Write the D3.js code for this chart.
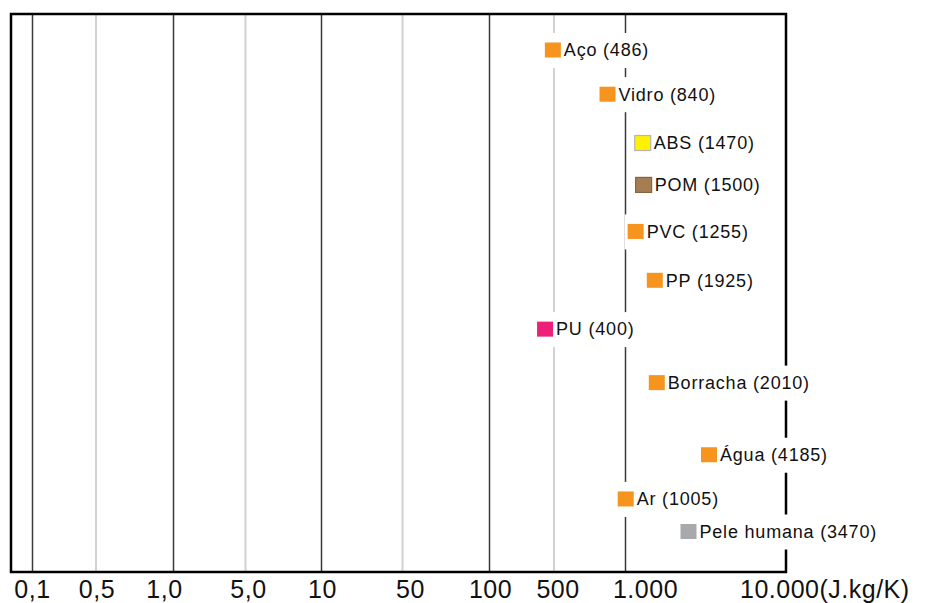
<!DOCTYPE html>
<html>
<head>
<meta charset="utf-8">
<script src="https://cdn.jsdelivr.net/npm/d3@7"></script>
<style>
  body { margin: 0; background: #fff; }
  text { font-family: "Liberation Sans", Arial, Helvetica, sans-serif; fill: #111; }
</style>
</head>
<body>
<div id="chart"></div>
<script>
// materials and their specific heat (J/kg.K)
const materials = ["Aço", "Vidro", "ABS", "POM", "PVC", "PP", "PU", "Borracha", "Água", "Ar", "Pele humana"];
const heatValues = [486, 840, 1470, 1500, 1255, 1925, 400, 2010, 4185, 1005, 3470];
const markerColors = ["#f7941d", "#f7941d", "#fff200", "#a67c52", "#f7941d", "#f7941d", "#ec1f79", "#f7941d", "#f7941d", "#f7941d", "#a7a9ac"];
// vertical slot of each row (rows are not evenly spaced in the original)
const rowSlots = [0, 0.95, 2, 2.9, 3.9, 4.95, 6, 7.15, 8.7, 9.65, 10.35];

const tickValues = [0.1, 0.5, 1, 5, 10, 50, 100, 500, 1000, 10000];
const tickLabels = ["0,1", "0,5", "1,0", "5,0", "10", "50", "100", "500", "1.000", "10.000(J.kg/K)"];
// labels are not all centred on their line in the original
const tickLabelShift = [0, 1, -9, 3, 1, 8, 1, 4, 20, -46];

const width = 930, height = 603;
const frame = { left: 11, top: 14, bottom: 572 };

// the axis is a hand drawn log axis, so each stretch gets its own width
const x = d3.scaleLog()
  .domain([0.1, 0.5, 1, 5, 10, 50, 100, 500, 1000, 2000, 3500, 4000, 10000])
  .range([32.5, 96, 173.5, 245.5, 321.5, 402.5, 489.5, 554, 625.5, 656.5, 689, 705, 786]);

const y = d3.scaleLinear()
  .domain([0, 10.35])
  .range([50, 531.5]);

const svg = d3.select("#chart").append("svg")
  .attr("width", width)
  .attr("height", height)
  .attr("viewBox", [0, 0, width, height]);

const right = x(10000);
const isDecade = d => Math.abs(Math.log10(d) - Math.round(Math.log10(d))) < 1e-6;

// grid lines
svg.append("g")
  .selectAll("line")
  .data(tickValues.slice(0, -1))
  .join("line")
    .attr("x1", d => x(d)).attr("x2", d => x(d))
    .attr("y1", frame.top).attr("y2", frame.bottom)
    .attr("stroke", d => isDecade(d) ? "#3a3a3a" : "#d2d2d2")
    .attr("stroke-width", d => isDecade(d) ? 1.5 : 2);

// frame
svg.append("path")
  .attr("d", `M${frame.left},${frame.bottom}V${frame.top}H${right}V${frame.bottom}Z`)
  .attr("fill", "none")
  .attr("stroke", "#000")
  .attr("stroke-width", 2.5);

// tick labels
svg.append("g")
  .selectAll("text")
  .data(tickValues)
  .join("text")
    .attr("x", d => x(d))
    .attr("y", 598)
    .attr("font-size", 25)
    .attr("letter-spacing", 0.5)
    .attr("text-anchor", (d, i) => i === tickValues.length - 1 ? "start" : "middle")
    .attr("dx", (d, i) => tickLabelShift[i])
    .text((d, i) => tickLabels[i]);

// material rows
const rows = svg.append("g")
  .selectAll("g")
  .data(materials)
  .join("g")
    .attr("transform", (d, i) => `translate(${x(heatValues[i])},${y(rowSlots[i])})`);

rows.append("text")
  .attr("x", 11)
  .attr("dy", "0.35em")
  .attr("font-size", 18)
  .attr("letter-spacing", 0.8)
  .text((d, i) => `${d} (${heatValues[i]})`);

// white background that breaks the grid lines behind each label
rows.insert("rect", "text")
  .attr("x", -11)
  .attr("y", -17)
  .attr("height", 35)
  .attr("width", function() {
    const t = d3.select(this.parentNode).select("text").node();
    return t.getComputedTextLength() + 25;
  })
  .attr("fill", "#fff");

rows.insert("rect", "text")
  .attr("x", -8)
  .attr("y", -7.5)
  .attr("width", 16)
  .attr("height", 15)
  .attr("fill", (d, i) => markerColors[i])
  .attr("stroke", (d, i) => materials[i] === "ABS" ? "#b5b5b5" : materials[i] === "POM" ? "#8a6440" : "none")
  .attr("stroke-width", 1.2);
</script>
</body>
</html>
